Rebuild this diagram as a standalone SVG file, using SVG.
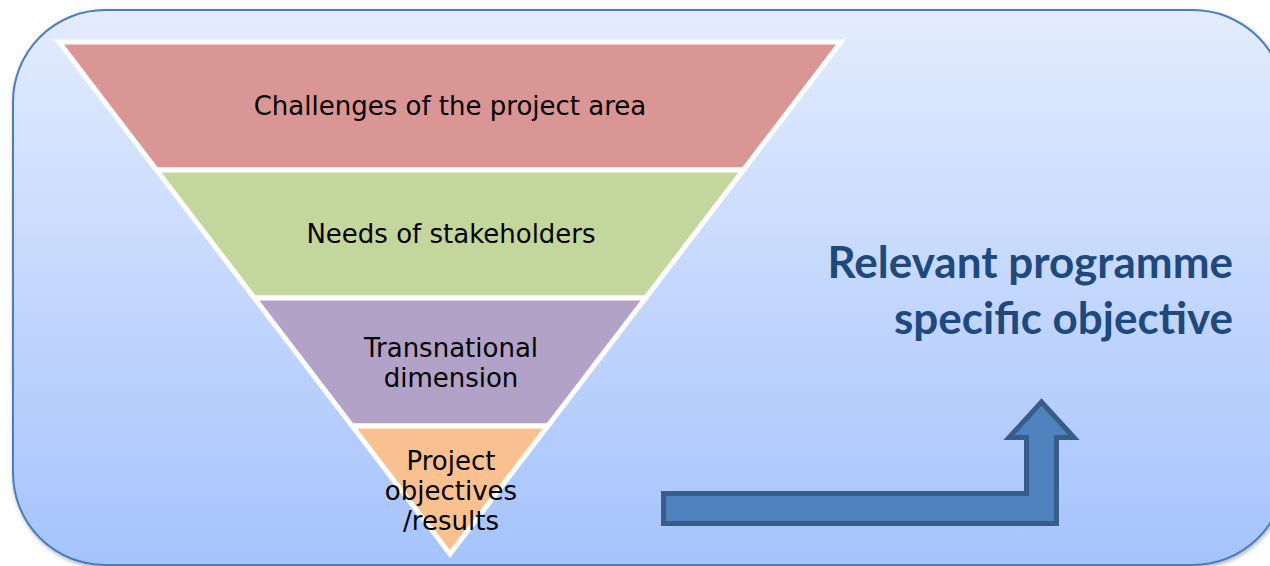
<svg xmlns="http://www.w3.org/2000/svg" width="1270" height="566" viewBox="0 0 1270 566">
  <defs>
    <linearGradient id="bg" x1="0" y1="0" x2="0" y2="1">
      <stop offset="0" stop-color="#e3ecfd"/>
      <stop offset="1" stop-color="#a5c3fc"/>
    </linearGradient>
    <filter id="sh" x="-5%" y="-5%" width="110%" height="110%">
      <feDropShadow dx="1" dy="2" stdDeviation="2" flood-color="#000" flood-opacity="0.3"/>
    </filter>
  </defs>
  <style>
    .band { stroke: #ffffff; stroke-width: 5; stroke-linejoin: miter; }
    .lbl { font-family: "DejaVu Sans", "Verdana", sans-serif; font-size: 26px; fill: #000; text-anchor: middle; }
    .big { font-family: "Lato", "Liberation Sans", sans-serif; font-weight: bold; font-size: 44px; fill: #1f497d; text-anchor: end; }
    .arrow { fill: #4f81bd; stroke: #385d8a; stroke-width: 5; stroke-linejoin: miter; }
  </style>
  <g id="background">
    <rect x="13" y="10" width="1272" height="555" rx="92" ry="92" fill="url(#bg)" stroke="#4a7ebb" stroke-width="2" filter="url(#sh)"/>
  </g>
  <g id="band-challenges">
    <polygon class="band" points="59,42 841,42 743.4,170 156.6,170" fill="#d99694"/>
    <text class="lbl" x="450" y="115">Challenges of the project area</text>
  </g>
  <g id="band-needs">
    <polygon class="band" points="156.6,170 743.4,170 645.6,298 254.4,298" fill="#c3d69b"/>
    <text class="lbl" x="451" y="243">Needs of stakeholders</text>
  </g>
  <g id="band-transnational">
    <polygon class="band" points="254.4,298 645.6,298 547.8,426 352.2,426" fill="#b2a2c7"/>
    <text class="lbl" x="451" y="357">Transnational</text>
    <text class="lbl" x="451" y="387">dimension</text>
  </g>
  <g id="band-project">
    <polygon class="band" points="352.2,426 547.8,426 450,554" fill="#fac090"/>
    <text class="lbl" x="451" y="470">Project</text>
    <text class="lbl" x="451" y="500">objectives</text>
    <text class="lbl" x="451" y="530">/results</text>
  </g>
  <g id="objective">
    <text class="big" x="1233" y="278">Relevant programme</text>
    <text class="big" x="1233" y="334">specific objective</text>
  </g>
  <g id="connectors">
    <path class="arrow" d="M663.5,493.5 H1026.5 V437.5 H1009 L1041.5,402 L1074,437.5 H1056.5 V523.5 H663.5 Z"/>
  </g>
</svg>
